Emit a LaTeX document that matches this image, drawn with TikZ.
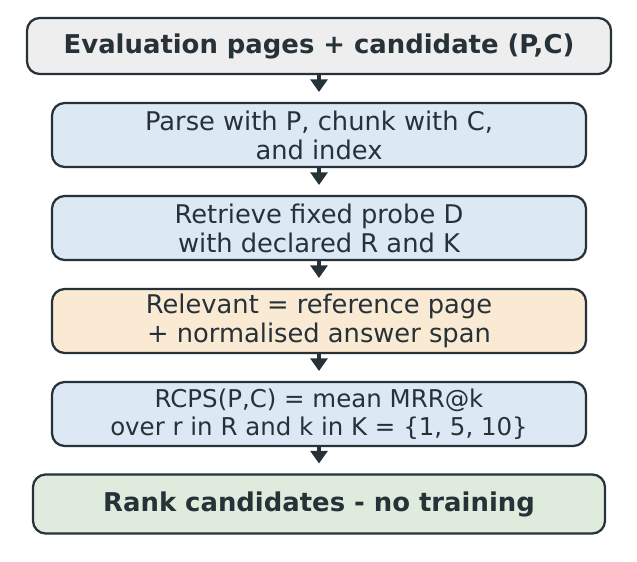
\documentclass[tikz,border=0pt]{standalone}
\usepackage{fontspec}
\setmainfont{DejaVu Sans}
\usetikzlibrary{arrows.meta}
\definecolor{edge}{HTML}{263238}
\definecolor{fillgrey}{HTML}{EEEEEE}
\definecolor{fillblue}{HTML}{DCE9F5}
\definecolor{fillorange}{HTML}{FAE9D3}
\definecolor{fillgreen}{HTML}{DFEBDC}
\tikzset{
  stage/.style={draw=edge, line width=1.6pt, rounded corners=9pt, align=center,
    text=edge, inner sep=0pt, font=\fontsize{18.3}{20.5}\selectfont},
  link/.style={-{Triangle[length=9pt,width=12pt]}, draw=edge, line width=3pt}
}
\begin{document}
\begin{tikzpicture}[x=0.025cm,y=-0.025cm]
  \useasboundingbox (0,0) rectangle (637,561);

  % boxes, top to bottom
  \node[stage, fill=fillgrey, minimum width=584*0.025cm, minimum height=56*0.025cm,
        font=\fontsize{18.4}{21}\selectfont\bfseries] (eval) at (319,46)
        {Evaluation pages + candidate (P,C)};
  \node[stage, fill=fillblue, minimum width=534*0.025cm, minimum height=64*0.025cm] (parse) at (319,135)
        {Parse with P, chunk with C,\\and index};
  \node[stage, fill=fillblue, minimum width=534*0.025cm, minimum height=64*0.025cm] (probe) at (319,228)
        {Retrieve fixed probe D\\with declared R and K};
  \node[stage, fill=fillorange, minimum width=534*0.025cm, minimum height=64*0.025cm] (rel) at (319,321)
        {Relevant = reference page\\+ normalised answer span};
  \node[stage, fill=fillblue, minimum width=534*0.025cm, minimum height=64*0.025cm,
        font=\fontsize{17.4}{19.8}\selectfont] (score) at (319,414)
        {RCPS(P,C) = mean MRR@k\\over r in R and k in K = \{1, 5, 10\}};
  \node[stage, fill=fillgreen, minimum width=572*0.025cm, minimum height=59*0.025cm,
        font=\fontsize{18.4}{21}\selectfont\bfseries] (rank) at (319,504)
        {Rank candidates - no training};

  % arrows
  \foreach \a/\b in {eval/parse, parse/probe, probe/rel, rel/score, score/rank}
    \draw[link] (\a.south) -- ([yshift=7pt]\b.north);
\end{tikzpicture}
\end{document}
